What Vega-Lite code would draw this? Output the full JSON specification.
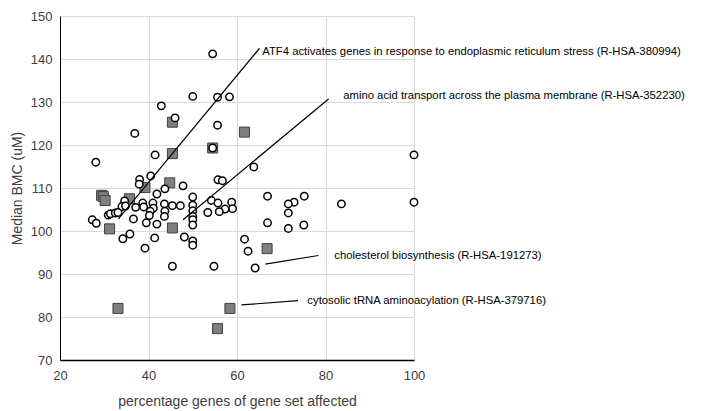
{
  "$schema": "https://vega.github.io/schema/vega-lite/v6.json",
  "autosize": {"type": "none"},
  "padding": {"left": 60, "top": 16, "right": 295, "bottom": 51},
  "width": 354,
  "height": 344,
  "background": "white",
  "config": {
    "view": {"stroke": null},
    "font": "Liberation Sans",
    "axis": {"labelFont": "Liberation Sans", "titleFont": "Liberation Sans", "labelColor": "#404040", "titleColor": "#404040", "titleFontWeight": "normal", "gridColor": "#d9d9d9", "gridWidth": 1, "ticks": false, "domainColor": "#000000", "labelFlush": false}
  },
  "datasets": {
    "circles": [
      {"pct": 28.1, "bmc": 116.0}, {"pct": 41.5, "bmc": 117.7}, {"pct": 38.0, "bmc": 112.0}, {"pct": 37.9, "bmc": 110.9},
      {"pct": 40.5, "bmc": 112.8}, {"pct": 41.9, "bmc": 108.6}, {"pct": 34.6, "bmc": 107.0}, {"pct": 34.0, "bmc": 105.7},
      {"pct": 34.8, "bmc": 105.8}, {"pct": 37.1, "bmc": 105.5}, {"pct": 38.7, "bmc": 106.5}, {"pct": 38.9, "bmc": 105.6},
      {"pct": 41.0, "bmc": 106.5}, {"pct": 41.1, "bmc": 105.3}, {"pct": 40.4, "bmc": 104.6}, {"pct": 40.2, "bmc": 103.6},
      {"pct": 39.5, "bmc": 101.9}, {"pct": 41.9, "bmc": 101.6}, {"pct": 36.6, "bmc": 102.8}, {"pct": 30.9, "bmc": 103.7},
      {"pct": 31.4, "bmc": 104.0}, {"pct": 32.5, "bmc": 104.2}, {"pct": 33.1, "bmc": 104.3}, {"pct": 27.3, "bmc": 102.6},
      {"pct": 28.2, "bmc": 101.8}, {"pct": 34.2, "bmc": 98.2}, {"pct": 35.8, "bmc": 99.3}, {"pct": 39.2, "bmc": 96.0},
      {"pct": 41.4, "bmc": 98.4}, {"pct": 55.7, "bmc": 111.9}, {"pct": 56.7, "bmc": 111.7}, {"pct": 47.8, "bmc": 110.5},
      {"pct": 43.7, "bmc": 109.8}, {"pct": 50.0, "bmc": 107.9}, {"pct": 54.2, "bmc": 107.1}, {"pct": 55.7, "bmc": 106.5},
      {"pct": 58.8, "bmc": 106.7}, {"pct": 59.0, "bmc": 105.2}, {"pct": 57.3, "bmc": 105.1}, {"pct": 56.0, "bmc": 104.5},
      {"pct": 53.4, "bmc": 104.3}, {"pct": 43.6, "bmc": 106.3}, {"pct": 43.7, "bmc": 104.6}, {"pct": 43.6, "bmc": 103.4},
      {"pct": 45.4, "bmc": 105.9}, {"pct": 47.2, "bmc": 105.9}, {"pct": 50.0, "bmc": 106.0}, {"pct": 50.0, "bmc": 104.7},
      {"pct": 50.0, "bmc": 103.4}, {"pct": 50.0, "bmc": 102.6}, {"pct": 50.0, "bmc": 101.4}, {"pct": 48.1, "bmc": 98.6},
      {"pct": 50.0, "bmc": 97.7}, {"pct": 50.0, "bmc": 96.7}, {"pct": 61.7, "bmc": 98.1}, {"pct": 62.5, "bmc": 95.3},
      {"pct": 63.8, "bmc": 114.9}, {"pct": 100, "bmc": 117.7}, {"pct": 100, "bmc": 106.7}, {"pct": 83.6, "bmc": 106.3},
      {"pct": 66.9, "bmc": 108.1}, {"pct": 75.2, "bmc": 108.1}, {"pct": 72.9, "bmc": 106.7}, {"pct": 71.6, "bmc": 106.3},
      {"pct": 71.6, "bmc": 104.2}, {"pct": 66.9, "bmc": 101.9}, {"pct": 71.6, "bmc": 100.6}, {"pct": 75.1, "bmc": 101.4},
      {"pct": 45.4, "bmc": 91.8}, {"pct": 54.8, "bmc": 91.8}, {"pct": 64.1, "bmc": 91.4}, {"pct": 54.5, "bmc": 141.2},
      {"pct": 50.0, "bmc": 131.3}, {"pct": 55.6, "bmc": 131.1}, {"pct": 58.3, "bmc": 131.2}, {"pct": 42.9, "bmc": 129.1},
      {"pct": 46.0, "bmc": 126.3}, {"pct": 55.6, "bmc": 124.6}, {"pct": 54.5, "bmc": 119.3}, {"pct": 36.9, "bmc": 122.7}
    ],
    "squares": [
      {"pct": 29.4, "bmc": 108.3}, {"pct": 29.8, "bmc": 108.0}, {"pct": 30.2, "bmc": 107.1}, {"pct": 31.2, "bmc": 100.5},
      {"pct": 35.7, "bmc": 107.5}, {"pct": 39.2, "bmc": 110.1}, {"pct": 45.4, "bmc": 125.3}, {"pct": 45.4, "bmc": 118.0},
      {"pct": 44.8, "bmc": 111.2}, {"pct": 45.4, "bmc": 100.7}, {"pct": 54.5, "bmc": 119.3}, {"pct": 61.7, "bmc": 123.0},
      {"pct": 66.8, "bmc": 95.9}, {"pct": 33.1, "bmc": 82.0}, {"pct": 58.4, "bmc": 82.0}, {"pct": 55.6, "bmc": 77.3}
    ],
    "leaders": [
      {"id": "atf4", "pct": 33.2, "bmc": 102.8}, {"id": "atf4", "pct": 65.1, "bmc": 142.5},
      {"id": "amino", "pct": 47.8, "bmc": 102.6}, {"id": "amino", "pct": 80.7, "bmc": 130.7},
      {"id": "chol", "pct": 66.4, "bmc": 92.3}, {"id": "chol", "pct": 78.4, "bmc": 94.3},
      {"id": "trna", "pct": 61.0, "bmc": 82.8}, {"id": "trna", "pct": 73.8, "bmc": 83.8}
    ],
    "labels": [
      {"pct": 65.7, "bmc": 141.7, "text": "ATF4 activates genes in response to endoplasmic reticulum stress (R-HSA-380994)"},
      {"pct": 84.0, "bmc": 131.3, "text": "amino acid transport across the plasma membrane (R-HSA-352230)"},
      {"pct": 82.0, "bmc": 94.2, "text": "cholesterol biosynthesis (R-HSA-191273)"},
      {"pct": 75.9, "bmc": 83.8, "text": "cytosolic tRNA aminoacylation (R-HSA-379716)"}
    ]
  },
  "encoding": {
    "x": {"field": "pct", "type": "quantitative", "scale": {"domain": [20, 100], "nice": false, "zero": false},
      "axis": {"values": [20, 40, 60, 80, 100], "title": "percentage genes of gene set affected", "labelFontSize": 13, "titleFontSize": 14, "labelPadding": 9, "domainWidth": 1.5, "titleX": 177, "titleY": 41, "titleBaseline": "middle"}},
    "y": {"field": "bmc", "type": "quantitative", "scale": {"domain": [70, 150], "nice": false, "zero": false},
      "axis": {"values": [70, 80, 90, 100, 110, 120, 130, 140, 150], "title": "Median BMC (uM)", "labelFontSize": 13, "titleFontSize": 14, "labelPadding": 8, "domainWidth": 1, "titleX": -43, "titleY": 172, "titleBaseline": "middle", "titleAngle": -90}}
  },
  "layer": [
    {"data": {"name": "squares"}, "mark": {"type": "point", "shape": "square", "filled": true, "fill": "#7f7f7f", "stroke": "#404040", "strokeWidth": 1, "size": 100, "opacity": 1}},
    {"data": {"name": "circles"}, "mark": {"type": "point", "shape": "circle", "filled": true, "fill": "white", "stroke": "#000000", "strokeWidth": 1.5, "size": 55, "opacity": 1}},
    {"data": {"name": "leaders"}, "mark": {"type": "line", "color": "#000000", "strokeWidth": 1.2}, "encoding": {"detail": {"field": "id"}}},
    {"data": {"name": "labels"}, "mark": {"type": "text", "align": "left", "baseline": "middle", "fontSize": 11.3, "color": "#000000", "font": "Liberation Sans"}, "encoding": {"text": {"field": "text"}}}
  ]
}
